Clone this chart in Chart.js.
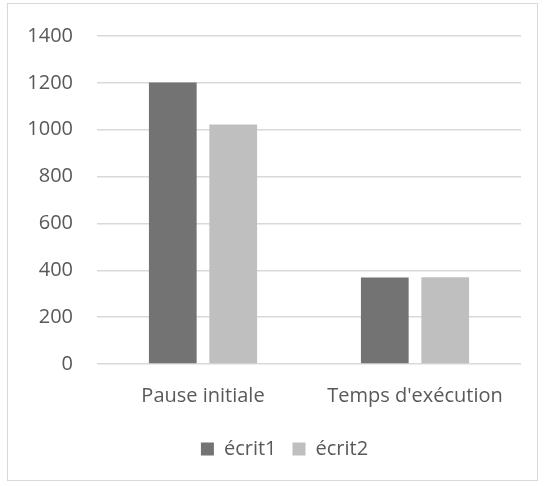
<!DOCTYPE html>
<html>
<head>
<meta charset="utf-8">
<script src="https://cdn.jsdelivr.net/npm/chart.js@4"></script>
<style>
  html, body { margin: 0; padding: 0; background: #fff; }
  #wrap { position: relative; width: 545px; height: 486px; }
  #frame {
    position: absolute; left: 7px; top: 3px; width: 531px; height: 478px;
    box-sizing: border-box; border: 1px solid #d9d9d9; pointer-events: none;
  }
</style>
</head>
<body>
<div id="wrap">
  <canvas id="chart" width="545" height="486"></canvas>
  <div id="frame"></div>
</div>
<script>
// Chart data
const categories = ['Pause initiale', "Temps d'exécution"];
const seriesNames = ['écrit1', 'écrit2'];
const ecrit1 = [1202, 369];
const ecrit2 = [1022, 370];
const yTicks = [0, 200, 400, 600, 800, 1000, 1200, 1400];

const textColor = '#595959';
const fontFamily = '"Open Sans", sans-serif';

// Nudge the legend to the right so it sits centred like the original
const legendShift = {
    id: 'legendShift',
    afterLayout: function(chart) {
        const legend = chart.legend;
        if (!legend) return;
        legend.left += 24;
        legend.right += 24;
        if (legend.adjustHitBoxes) legend.adjustHitBoxes();
    }
};

const ctx = document.getElementById('chart').getContext('2d');

const chart = new Chart(ctx, {
    type: 'bar',
    data: {
        labels: categories,
        datasets: [
            {
                label: seriesNames[0],
                data: ecrit1,
                backgroundColor: '#737373',
                categoryPercentage: 0.57,
                barPercentage: 0.79
            },
            {
                label: seriesNames[1],
                data: ecrit2,
                backgroundColor: '#bfbfbf',
                categoryPercentage: 0.57,
                barPercentage: 0.79
            }
        ]
    },
    plugins: [legendShift],
    options: {
        responsive: false,
        animation: false,
        layout: {
            padding: { top: 31, right: 24, bottom: 17, left: 0 }
        },
        scales: {
            x: {
                afterFit: function(scale) {
                    scale.height = 59;
                },
                grid: { display: false, drawTicks: false },
                border: { display: false },
                ticks: {
                    color: textColor,
                    font: { family: fontFamily, size: 20 },
                    padding: 20
                }
            },
            y: {
                min: 0,
                max: 1400,
                afterFit: function(scale) {
                    scale.width = 97;
                },
                afterBuildTicks: function(scale) {
                    scale.ticks = yTicks.map(v => ({ value: v }));
                },
                grid: { color: '#d9d9d9', lineWidth: 1.5, drawTicks: false },
                border: { display: false },
                ticks: {
                    color: textColor,
                    font: { family: fontFamily, size: 20 },
                    padding: 24,
                    callback: function(value) {
                        return String(value);
                    }
                }
            }
        },
        plugins: {
            legend: {
                position: 'bottom',
                labels: {
                    color: textColor,
                    font: { family: fontFamily, size: 20 },
                    boxWidth: 13,
                    boxHeight: 13,
                    padding: 16
                }
            },
            tooltip: { enabled: false }
        }
    }
});
</script>
</body>
</html>
